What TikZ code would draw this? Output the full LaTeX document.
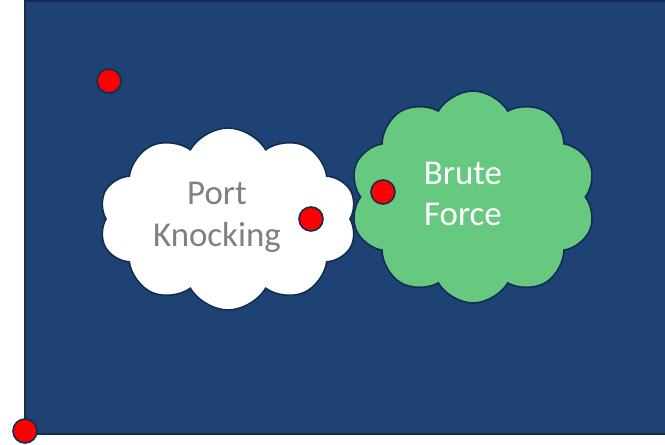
\documentclass[tikz,border=0pt]{standalone}
\usepackage{fontspec}
\setmainfont{Carlito}
\usetikzlibrary{shapes.symbols,positioning}

\definecolor{navy}{RGB}{30,66,116}
\definecolor{edgeblue}{RGB}{18,44,82}
\definecolor{puffgreen}{RGB}{102,201,127}
\definecolor{dotred}{RGB}{255,0,0}

\begin{document}
\begin{tikzpicture}[x=1bp,y=1bp,
        cloudbox/.style={cloud,cloud puffs=10,cloud puff arc=120,cloud ignores aspect,
          draw=edgeblue,line width=1.6bp,inner sep=0pt},
        dot/.style={circle,fill=dotred,draw=edgeblue,line width=1.6bp,
          minimum size=24bp,inner sep=0pt},
        cloudtext/.style={align=center,font=\fontsize{35}{42}\selectfont}]

  \useasboundingbox (0,0) rectangle (665,-445);
  \fill[white] (0,0) rectangle (665,-445);
  \draw[fill=navy,draw=edgeblue,line width=1.2bp] (25,-1) rectangle (680,-434);

  \node[cloudbox,fill=white,minimum width=258bp,minimum height=182bp] (pk) at (228,-219) {};
  \node[cloudbox,fill=puffgreen,minimum width=246bp,minimum height=212bp] (bf) at (473,-197) {};

  \node[cloudtext,text=gray] (pktext) at (217,-217) {Port\\Knocking};
  \node[cloudtext,text=white] (bftext) at (463,-194) {Brute\\Force};

  \node[dot] (d1) at (109,-81) {};
  \node[dot] (d2) at (311,-219) {};
  \node[dot] (d3) at (383,-192) {};
  \node[dot] (d4) at (25,-431) {};

\end{tikzpicture}
\end{document}
